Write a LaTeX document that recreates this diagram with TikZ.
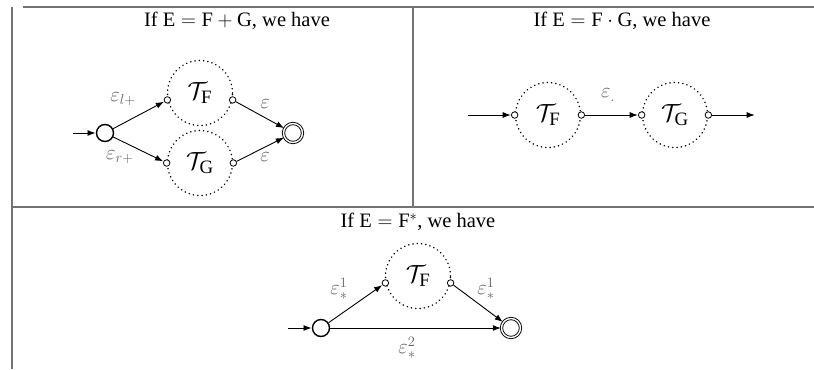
\documentclass[tikz,border=0pt]{standalone}
\usepackage{fontspec}
\setmainfont{Liberation Serif}
\usetikzlibrary{arrows.meta}
\begin{document}
\begin{tikzpicture}[x=1bp,y=-1bp,
  rule/.style={draw=black!55,line width=1.4bp},
  title/.style={font=\fontsize{20.5bp}{22bp}\selectfont},
  init/.style={circle,draw,line width=1.4bp,minimum size=17bp,inner sep=0pt},
  final/.style={circle,draw,double,double distance=1.4bp,line width=0.9bp,minimum size=19bp,inner sep=0pt},
  aut/.style={circle,draw,line width=1.7bp,dash pattern=on 0.01bp off 4.3bp,line cap=round,minimum size=65bp,inner sep=0pt,font=\fontsize{27bp}{29bp}\selectfont},
  port/.style={circle,draw,fill=white,line width=0.8bp,minimum size=6.5bp,inner sep=0pt},
  edge/.style={-{Latex[length=8bp,width=6bp]},line width=0.9bp,shorten >=0.3bp},
  lab/.style={text=black!62,font=\fontsize{21bp}{23bp}\selectfont,inner sep=0pt}
]
\useasboundingbox (0,0) rectangle (814,369);
% table rules
\draw[rule] (23,7) -- (814,7);
\draw[rule] (12,7) -- (12,369);
\draw[rule] (413,7) -- (413,207);
\draw[rule] (12,207) -- (814,207);

% ---------- cell 1: E = F + G
\node[title] (t1) at (237,21) {If $\mathrm{E}=\mathrm{F}+\mathrm{G}$, we have};
\node[init] (i1) at (105,133) {};
\coordinate (s1) at (73,133);
\node[aut] (AF) at (200,93) {$\mathcal{T}_{\mathrm{F}}$};
\node[aut] (AG) at (200,163) {$\mathcal{T}_{\mathrm{G}}$};
\node[port] (AFi) at (AF.192) {};
\node[port] (AFo) at (AF.-12) {};
\node[port] (AGi) at (AG.west) {};
\node[port] (AGo) at (AG.east) {};
\node[final] (f1) at (293,133) {};
\draw[edge] (s1) -- (i1);
\draw[edge] (i1) -- (AFi);
\draw[edge] (i1) -- (AGi);
\draw[edge] (AFo) -- (f1);
\draw[edge] (AGo) -- (f1);
\node[lab] (l1) at (123,99) {$\varepsilon_{l+}$};
\node[lab] (l2) at (120,157) {$\varepsilon_{r+}$};
\node[lab] (l3) at (265,104) {$\varepsilon$};
\node[lab] (l4) at (265,157) {$\varepsilon$};

% ---------- cell 2: E = F . G
\node[title] (t2) at (622,21) {If $\mathrm{E}=\mathrm{F}\cdot\mathrm{G}$, we have};
\node[aut] (BF) at (548,115) {$\mathcal{T}_{\mathrm{F}}$};
\node[aut] (BG) at (675,115) {$\mathcal{T}_{\mathrm{G}}$};
\node[port] (BFi) at (BF.west) {};
\node[port] (BFo) at (BF.east) {};
\node[port] (BGi) at (BG.west) {};
\node[port] (BGo) at (BG.east) {};
\coordinate (s2) at (468,115);
\coordinate (e2) at (755,115);
\draw[edge] (s2) -- (BFi);
\draw[edge] (BFo) -- (BGi);
\draw[edge] (BGo) -- (e2);
\node[lab] (l5) at (608,95) {$\varepsilon_{.}$};

% ---------- cell 3: E = F*
\node[title] (t3) at (418,222) {If $\mathrm{E}=\mathrm{F}^{*}$, we have};
\node[init] (i3) at (321,328) {};
\coordinate (s3) at (288,328);
\node[aut] (CF) at (418,276) {$\mathcal{T}_{\mathrm{F}}$};
\node[port] (CFi) at (CF.192) {};
\node[port] (CFo) at (CF.-12) {};
\node[final] (f3) at (511,328) {};
\draw[edge] (s3) -- (i3);
\draw[edge] (i3) -- (CFi);
\draw[edge] (CFo) -- (f3);
\draw[edge] (i3) -- (f3);
\node[lab] (l6) at (339,289) {$\varepsilon_{*}^{1}$};
\node[lab] (l7) at (486,289) {$\varepsilon_{*}^{1}$};
\node[lab] (l8) at (407,348) {$\varepsilon_{*}^{2}$};
\end{tikzpicture}
\end{document}
